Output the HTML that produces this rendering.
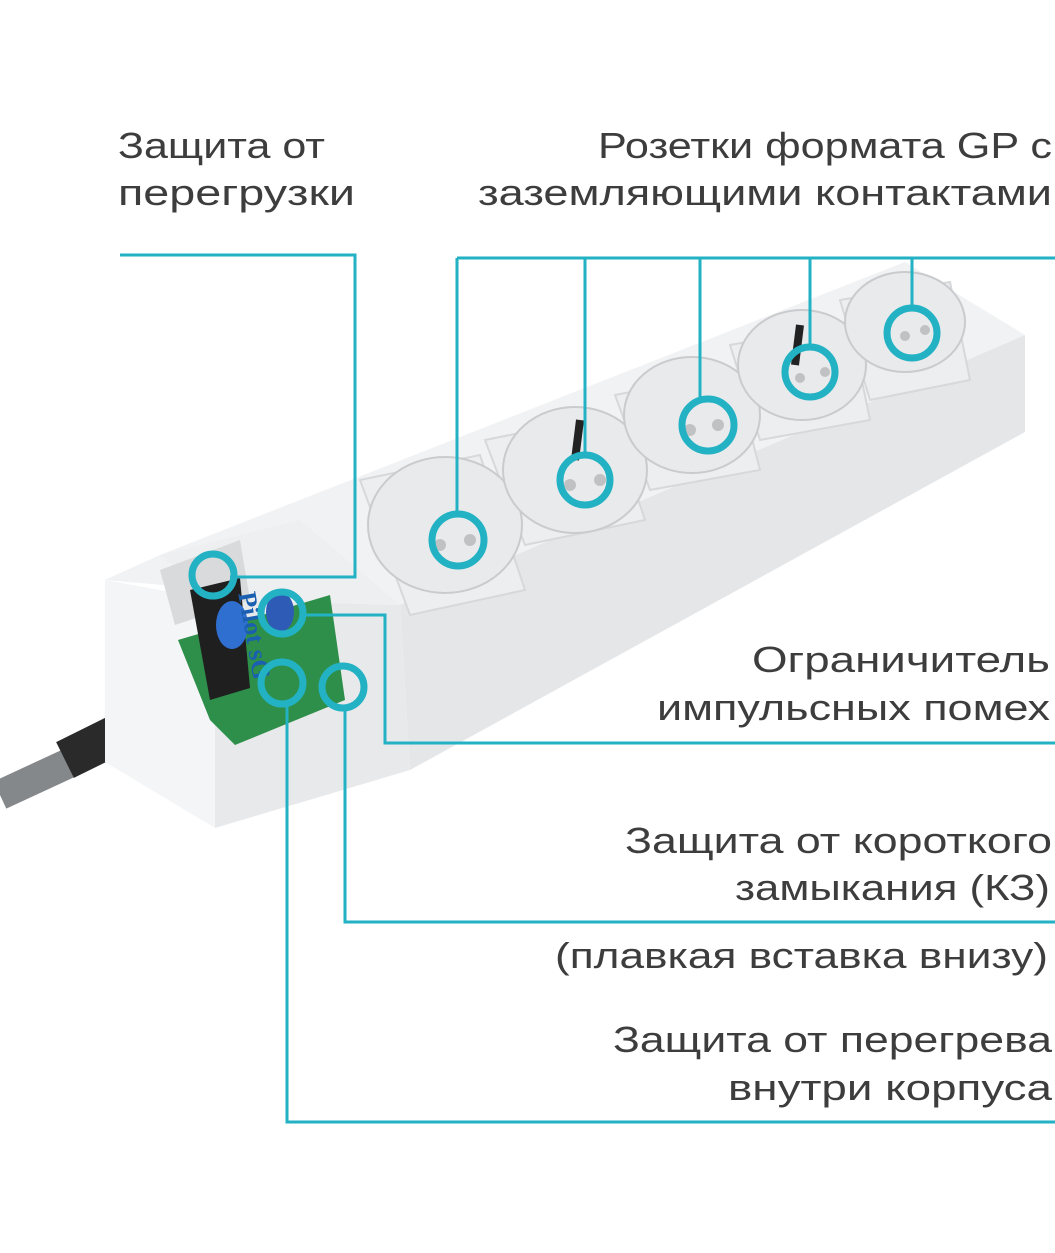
<!DOCTYPE html>
<html><head><meta charset="utf-8"><style>
html,body{margin:0;padding:0;background:#fff;}
svg{display:block}
text{font-family:"Liberation Sans",sans-serif;font-size:36px;fill:#3d3d3d;}
</style></head><body>
<svg width="1055" height="1253" viewBox="0 0 1055 1253" xmlns="http://www.w3.org/2000/svg">
<!-- cable -->
<path d="M0 795 L80 758" stroke="#85888a" stroke-width="30" fill="none"/>
<path d="M65 760 L150 718" stroke="#2a2a2a" stroke-width="40" fill="none"/>
<!-- body -->
<polygon points="105,580 160,555 905,262 1025,335 400,605" fill="#f1f2f3"/>
<polygon points="400,605 1025,335 1025,432 410,770" fill="#e4e6e8"/>
<polygon points="400,605 410,770 215,828 215,600" fill="#e8e9eb"/>
<polygon points="105,580 215,600 215,828 105,762" fill="#f4f5f6"/>
<polygon points="160,555 215,600 400,605 300,520" fill="#eeeff0"/>
<!-- switch area -->
<polygon points="160,570 240,540 250,600 175,625" fill="#d9dadb"/>
<polygon points="178,640 330,595 345,700 235,745 210,720" fill="#2e8f4a"/>
<polygon points="190,590 240,578 250,688 210,700" fill="#1f1f1f"/>
<ellipse cx="232" cy="625" rx="16" ry="24" fill="#2f6fd0"/>
<ellipse cx="280" cy="612" rx="14" ry="20" fill="#2d5bb5"/>
<text x="258" y="610" transform="rotate(80 258 590)" style="font-size:26px;fill:#1b5fb0;font-weight:bold;font-family:'Liberation Serif',serif">Pilot sG</text>
<!-- sockets -->
<g fill="#eceeef" stroke="#d6d8da" stroke-width="2">
<polygon points="360,480 480,455 525,590 410,615"/>
<polygon points="485,440 610,415 645,520 525,545"/>
<polygon points="615,395 735,372 760,470 650,490"/>
<polygon points="730,345 850,323 870,420 760,440"/>
<polygon points="840,300 950,282 970,380 870,400"/>
</g>
<g fill="#e9eaec" stroke="#c9cbce" stroke-width="2">
<ellipse cx="445" cy="525" rx="77" ry="68"/>
<ellipse cx="575" cy="470" rx="72" ry="63"/>
<ellipse cx="692" cy="415" rx="68" ry="58"/>
<ellipse cx="802" cy="365" rx="64" ry="55"/>
<ellipse cx="905" cy="322" rx="60" ry="50"/>
</g>
<g fill="#bfc1c3">
<circle cx="440" cy="545" r="6"/><circle cx="470" cy="540" r="6"/>
<circle cx="570" cy="485" r="6"/><circle cx="600" cy="480" r="6"/>
<circle cx="690" cy="430" r="6"/><circle cx="718" cy="425" r="6"/>
<circle cx="800" cy="378" r="5"/><circle cx="825" cy="372" r="5"/>
<circle cx="905" cy="336" r="5"/><circle cx="925" cy="330" r="5"/>
</g>
<path d="M580 420 L575 460 M800 325 L795 365" stroke="#222" stroke-width="8"/>
<!-- teal lines -->
<g stroke="#22b2c3" stroke-width="3" fill="none">
<polyline points="120,255 355,255 355,577 230,577"/>
<line x1="457" y1="258" x2="1055" y2="258"/>
<line x1="457" y1="258" x2="457" y2="515"/>
<line x1="585" y1="258" x2="585" y2="455"/>
<line x1="700" y1="258" x2="700" y2="400"/>
<line x1="810" y1="258" x2="810" y2="345"/>
<line x1="912" y1="258" x2="912" y2="310"/>
<polyline points="300,615 385,615 385,743 1055,743"/>
<polyline points="345,708 345,922 1055,922"/>
<polyline points="287,705 287,1122 1055,1122"/>
</g>
<g stroke="#22b2c3" stroke-width="7" fill="none">
<circle cx="458" cy="540" r="26"/>
<circle cx="585" cy="480" r="25"/>
<circle cx="708" cy="425" r="26"/>
<circle cx="810" cy="372" r="25"/>
<circle cx="912" cy="333" r="25"/>
<circle cx="213" cy="575" r="21"/>
<circle cx="282" cy="613" r="21"/>
<circle cx="282" cy="683" r="21"/>
<circle cx="343" cy="687" r="21"/>
</g>
<!-- labels -->
<text x="118" y="158" textLength="207" lengthAdjust="spacingAndGlyphs">Защита от</text>
<text x="118" y="205" textLength="237" lengthAdjust="spacingAndGlyphs">перегрузки</text>
<text x="598" y="158" textLength="454" lengthAdjust="spacingAndGlyphs">Розетки формата GP с</text>
<text x="478" y="205" textLength="574" lengthAdjust="spacingAndGlyphs">заземляющими контактами</text>
<text x="752" y="672" textLength="298" lengthAdjust="spacingAndGlyphs">Ограничитель</text>
<text x="657" y="720" textLength="393" lengthAdjust="spacingAndGlyphs">импульсных помех</text>
<text x="625" y="853" textLength="427" lengthAdjust="spacingAndGlyphs">Защита от короткого</text>
<text x="735" y="900" textLength="315" lengthAdjust="spacingAndGlyphs">замыкания (КЗ)</text>
<text x="555" y="968" textLength="493" lengthAdjust="spacingAndGlyphs">(плавкая вставка внизу)</text>
<text x="613" y="1052" textLength="439" lengthAdjust="spacingAndGlyphs">Защита от перегрева</text>
<text x="728" y="1100" textLength="324" lengthAdjust="spacingAndGlyphs">внутри корпуса</text>
</svg>
</body></html>
